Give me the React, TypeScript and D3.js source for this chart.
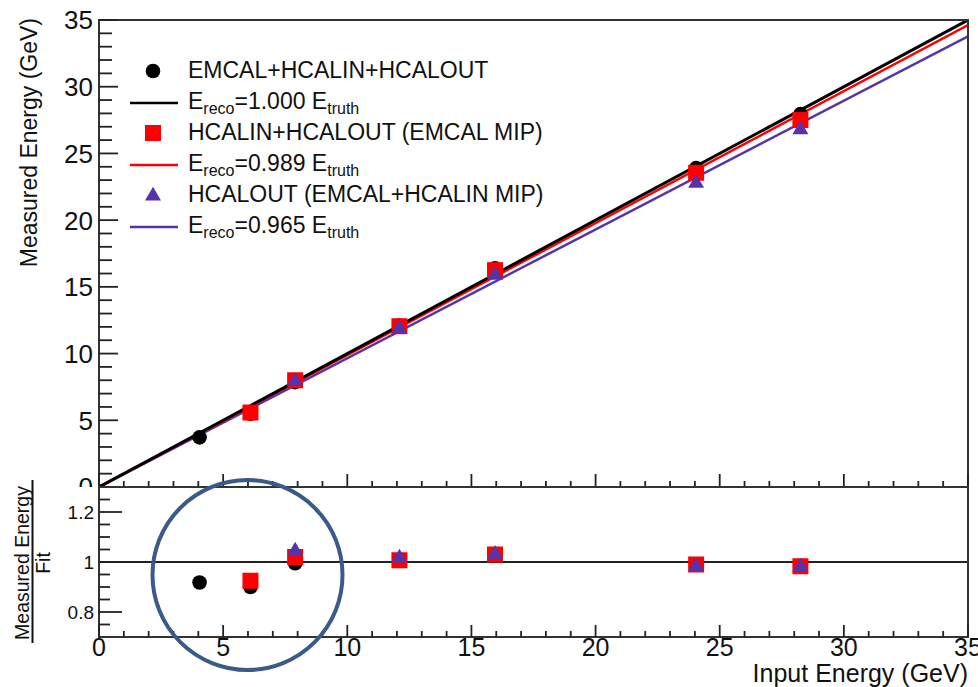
import React from "react";
import * as d3 from "d3";

const energies = [4.05, 6.1, 7.9, 12.1, 15.95, 24.05, 28.25];
const measAll = [3.72, 5.49, 7.86, 12.1, 16.4, 23.9, 27.95];
const measNoEm = [null, 5.58, 8.0, 12.05, 16.25, 23.55, 27.5];
const measOut = [null, null, 8.0, 11.95, 15.95, 22.85, 26.85];
const ratioAll = [0.918, 0.9, 0.995, 1.005, 1.03, 0.99, 0.985];
const ratioNoEm = [null, 0.925, 1.02, 1.007, 1.03, 0.99, 0.983];
const ratioOut = [null, null, 1.048, 1.02, 1.035, 0.986, 0.984];
const slopes = [1.0, 0.989, 0.965];
const slopeLabels = ["1.000", "0.989", "0.965"];
const seriesNames = ["EMCAL+HCALIN+HCALOUT", "HCALIN+HCALOUT (EMCAL MIP)", "HCALOUT (EMCAL+HCALIN MIP)"];
const xTicks = [0, 5, 10, 15, 20, 25, 30, 35];
const yTicks = [0, 5, 10, 15, 20, 25, 30, 35];
const rTicks = [0.8, 1, 1.2];
const rTickLabels = ["0.8", "1", "1.2"];

const COLORS = ["#000000", "#ff0000", "#5533aa"];
const FONT = "'Liberation Sans', Arial, Helvetica, sans-serif";

const L = 99, R = 968, T = 20, MID = 487, B = 637;

export default function App() {
  const x = d3.scaleLinear().domain([0, 35]).range([L, R]);
  const y = d3.scaleLinear().domain([0, 35]).range([MID, T]);
  const yr = d3.scaleLinear().domain([0.7, 1.3]).range([B, MID]);

  const minorX = d3.range(0, 36, 1);
  const minorY = d3.range(0, 36, 1);
  const minorR = d3.range(0.75, 1.26, 0.05);

  const meas = [measAll, measNoEm, measOut];
  const ratios = [ratioAll, ratioNoEm, ratioOut];

  const marker = (s: number, cx: number, cy: number, key: string) => {
    if (s === 0) return <circle key={key} cx={cx} cy={cy} r={7.3} fill={COLORS[0]} />;
    if (s === 1) return <rect key={key} x={cx - 8} y={cy - 8} width={16} height={16} fill={COLORS[1]} />;
    const pts = d3.symbol().type(d3.symbolTriangle).size(110)();
    return <path key={key} d={pts || ""} transform={`translate(${cx},${cy + 1})`} fill={COLORS[2]} />;
  };

  const fitLine = (k: number) =>
    d3.line<number>().x((e) => x(e)).y((e) => y(slopes[k] * e))([0, 35]) || "";

  const legendBase = 78;
  const legendStep = 31;

  return (
    <svg width={978} height={687} style={{ position: "absolute", left: 0, top: 0, background: "#fff" }} fontFamily={FONT}>
      <defs>
        <clipPath id="topclip">
          <rect x={L} y={T} width={R - L} height={MID - T} />
        </clipPath>
        <clipPath id="toplabels">
          <rect x={0} y={0} width={978} height={MID} />
        </clipPath>
      </defs>
      <rect x={0} y={0} width={978} height={687} fill="#fff" />

      {/* Top panel fit lines */}
      <g clipPath="url(#topclip)">
        {[2, 1, 0].map((k) => (
          <path key={k} d={fitLine(k)} stroke={COLORS[k]} strokeWidth={k === 0 ? 3 : 2.5} fill="none" />
        ))}
      </g>

      {/* Top panel markers */}
      {meas.map((arr, s) =>
        arr.map((v, i) => (v == null ? null : marker(s, x(energies[i]), y(v as number), `t${s}-${i}`)))
      )}

      {/* Top panel frame */}
      <rect x={L} y={T} width={R - L} height={MID - T} fill="none" stroke="#333" strokeWidth={2} />

      {/* Top y ticks */}
      {minorY.map((v) => (
        <line key={`ym${v}`} x1={L} x2={L + (v % 5 === 0 ? 19 : 13)} y1={y(v)} y2={y(v)} stroke="#222" strokeWidth={1.8} />
      ))}
      {/* Top x ticks */}
      {minorX.map((v) => (
        <line key={`xm${v}`} x1={x(v)} x2={x(v)} y1={MID} y2={MID - (v % 5 === 0 ? 13 : 6)} stroke="#222" strokeWidth={1.8} />
      ))}
      <g clipPath="url(#toplabels)">
        {yTicks.map((v) => (
          <text key={`yl${v}`} x={93} y={y(v)} dy="0.36em" textAnchor="end" fontSize={26} fill="#111">
            {v}
          </text>
        ))}
      </g>
      <text transform={`translate(37,18) rotate(-90)`} textAnchor="end" fontSize={23} fill="#111">
        Measured Energy (GeV)
      </text>

      {/* Legend */}
      {seriesNames.map((name, s) => {
        const by = legendBase + s * 2 * legendStep;
        const by2 = by + legendStep;
        return (
          <g key={`lg${s}`}>
            {marker(s, 153, by - 7, `lm${s}`)}
            <text x={188} y={by} fontSize={23} fill="#111">
              {name}
            </text>
            <line x1={130} x2={178} y1={by2 - 6} y2={by2 - 6} stroke={COLORS[s]} strokeWidth={2.5} />
            <text x={188} y={by2} fontSize={23} fill="#111">
              E<tspan fontSize={16} dy={5}>reco</tspan>
              <tspan dy={-5}>={slopeLabels[s]} E</tspan>
              <tspan fontSize={16} dy={5}>truth</tspan>
            </text>
          </g>
        );
      })}

      {/* Bottom panel */}
      <line x1={L} x2={R} y1={yr(1)} y2={yr(1)} stroke="#222" strokeWidth={2} />
      {ratios.map((arr, s) =>
        arr.map((v, i) => (v == null ? null : marker(s, x(energies[i]), yr(v as number), `r${s}-${i}`)))
      )}
      <rect x={L} y={MID} width={R - L} height={B - MID} fill="none" stroke="#333" strokeWidth={2} />
      {minorR.map((v) => {
        const major = rTicks.some((t) => Math.abs(t - v) < 1e-6);
        return (
          <line key={`rm${v.toFixed(2)}`} x1={L} x2={L + (major ? 23 : 11)} y1={yr(v)} y2={yr(v)} stroke="#222" strokeWidth={1.8} />
        );
      })}
      {minorX.map((v) => (
        <line key={`bxm${v}`} x1={x(v)} x2={x(v)} y1={B} y2={B - (v % 5 === 0 ? 12 : 6)} stroke="#222" strokeWidth={1.8} />
      ))}
      {rTicks.map((v, i) => (
        <text key={`rl${v}`} x={94} y={yr(v)} dy="0.36em" textAnchor="end" fontSize={19} fill="#111">
          {rTickLabels[i]}
        </text>
      ))}
      {xTicks.map((v) => (
        <text key={`xl${v}`} x={x(v)} y={656} textAnchor="middle" fontSize={25} fill="#111">
          {v}
        </text>
      ))}
      <text x={R} y={682} textAnchor="end" fontSize={25} fill="#111">
        Input Energy (GeV)
      </text>

      {/* Ratio title */}
      <g transform="translate(0,563)">
        <text transform="translate(29,0) rotate(-90)" textAnchor="middle" fontSize={19.5} fill="#111">
          Measured Energy
        </text>
        <line x1={32.5} x2={32.5} y1={-83} y2={80} stroke="#111" strokeWidth={2} />
        <text transform="translate(50,0) rotate(-90)" textAnchor="middle" fontSize={19.5} fill="#111">
          Fit
        </text>
      </g>

      {/* Annotation circle */}
      <circle cx={247.5} cy={575} r={95} fill="none" stroke="#3a5a8a" strokeWidth={4} />
    </svg>
  );
}
